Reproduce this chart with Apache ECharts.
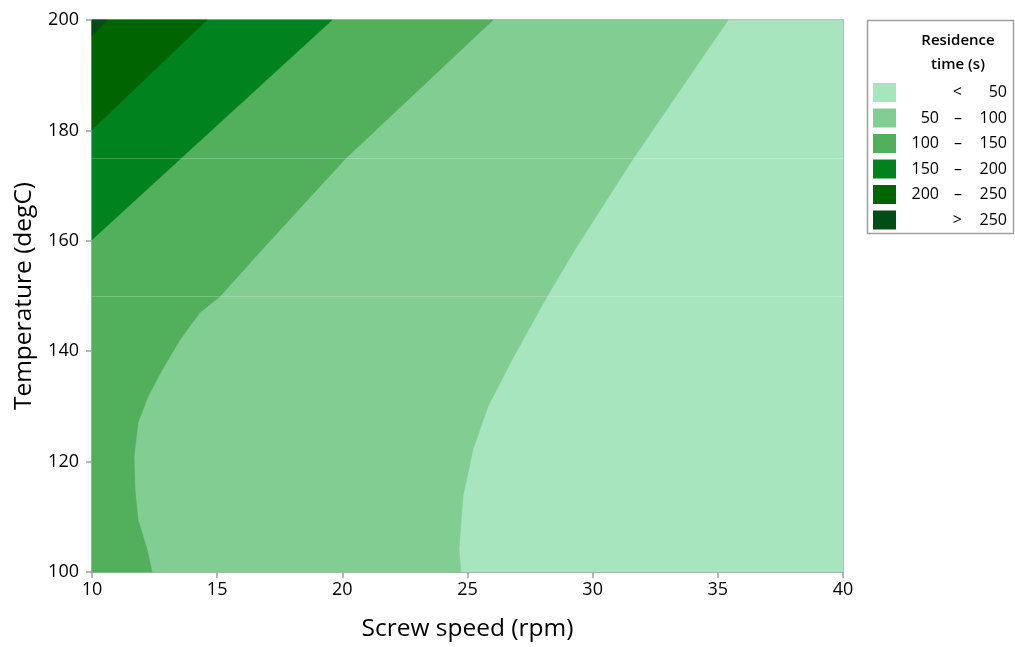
<!DOCTYPE html>
<html>
<head>
<meta charset="utf-8">
<script src="https://cdn.jsdelivr.net/npm/echarts@6/dist/echarts.min.js"></script>
<style>
  html, body { margin: 0; padding: 0; background: #fff; }
  #chart { width: 1015px; height: 647px; }
</style>
</head>
<body>
<div id="chart"></div>
<script>
// Axis ranges and ticks
const speedTicks = [10, 15, 20, 25, 30, 35, 40];
const tempTicks = [100, 120, 140, 160, 180, 200];

// Contour lines of residence time, [screw speed (rpm), temperature (degC)],
// each traced from the top edge of the design space down to its left/bottom edge.
const contour50 = [
  [35.41, 200], [31.61, 174.8], [29.29, 158.4], [28.18, 149.9], [26.82, 138.8],
  [25.82, 130.0], [25.22, 122.2], [24.82, 113.7], [24.66, 104.1], [24.74, 100]
];
const contour100 = [
  [26.02, 200], [20.11, 174.8], [16.79, 158.4], [15.11, 149.9], [14.31, 147.0],
  [13.52, 142.1], [12.80, 136.6], [12.24, 131.8], [11.84, 127.1], [11.68, 120.9],
  [11.72, 114.9], [11.84, 109.5], [12.20, 104.1], [12.40, 100]
];
const contour150 = [[19.59, 200], [13.52, 174.8], [10, 160.2]];
const contour200 = [[14.59, 200], [10, 180.1]];
const contour250 = [[10.60, 200], [10, 197.1]];

// Residence time bands (s)
const bandNames = ['< 50', '50 – 100', '100 – 150', '150 – 200', '200 – 250', '> 250'];
const bandColors = ['#A6E5BD', '#82CD91', '#52AF5B', '#00821F', '#006400', '#004D17'];

// Faint seams of the filled surface
const seamTemps = [150, 175];

const X_MIN = 10, X_MAX = 40, Y_MIN = 100, Y_MAX = 200;

// Region on the high side of a contour: the curve closed through the top-left corner
function regionFrom(curve) {
  const pts = curve.slice();
  const last = pts[pts.length - 1];
  if (last[1] === Y_MIN && last[0] !== X_MIN) pts.push([X_MIN, Y_MIN]);
  pts.push([X_MIN, Y_MAX]);
  return pts;
}
const fullRegion = [[X_MIN, Y_MIN], [X_MAX, Y_MIN], [X_MAX, Y_MAX], [X_MIN, Y_MAX]];

const regions = [
  fullRegion,
  regionFrom(contour50),
  regionFrom(contour100),
  regionFrom(contour150),
  regionFrom(contour200),
  regionFrom(contour250)
];

function polygonSeries(name, color, pts, z) {
  return {
    name: name,
    type: 'custom',
    coordinateSystem: 'cartesian2d',
    data: pts,
    z: z,
    itemStyle: { color: color },
    silent: true,
    renderItem: function (params, api) {
      if (params.dataIndex !== 0) return null;
      const points = pts.map(function (p) { return api.coord(p); });
      return {
        type: 'polygon',
        shape: { points: points },
        style: { fill: color, stroke: color, lineWidth: 0.5 }
      };
    }
  };
}

const series = regions.map(function (pts, i) {
  return polygonSeries(bandNames[i], bandColors[i], pts, 2 + i);
});

series.push({
  name: 'seams',
  type: 'custom',
  coordinateSystem: 'cartesian2d',
  data: seamTemps.map(function (t) { return [X_MIN, t]; }),
  z: 10,
  silent: true,
  renderItem: function (params, api) {
    const t = seamTemps[params.dataIndex];
    const a = api.coord([X_MIN, t]);
    const b = api.coord([X_MAX, t]);
    return {
      type: 'line',
      shape: { x1: a[0], y1: a[1] + 0.5, x2: b[0], y2: b[1] + 0.5 },
      style: { stroke: 'rgba(255,255,255,0.22)', lineWidth: 1 }
    };
  }
});

const FONT = '"Open Sans", "Noto Sans", sans-serif';
const AXIS_GREY = '#A0A0A0';

const chart = echarts.init(document.getElementById('chart'), null, { renderer: 'canvas' });

// Legend label columns: lower bound | separator | upper bound, all right-aligned
const legendRich = {
  a: { width: 38, align: 'right', fontSize: 16, fontFamily: FONT, color: '#000' },
  b: { width: 23, align: 'right', fontSize: 16, fontFamily: FONT, color: '#000' },
  c: { width: 45, align: 'right', fontSize: 16, fontFamily: FONT, color: '#000' }
};

chart.setOption({
  animation: false,
  backgroundColor: '#fff',
  textStyle: { fontFamily: FONT },
  grid: { left: 92, right: 172, top: 20, bottom: 74.5, show: true, borderColor: AXIS_GREY, borderWidth: 1.5 },
  xAxis: {
    type: 'value',
    min: speedTicks[0],
    max: speedTicks[speedTicks.length - 1],
    interval: 5,
    name: 'Screw speed (rpm)',
    nameLocation: 'middle',
    nameGap: 45,
    nameTextStyle: { fontSize: 24.5, color: '#000', fontFamily: FONT },
    axisLine: { lineStyle: { color: AXIS_GREY, width: 1.5 } },
    axisTick: { inside: false, length: 6, lineStyle: { color: AXIS_GREY, width: 1.5 } },
    axisLabel: { fontSize: 18, color: '#000', margin: 9, fontFamily: FONT },
    splitLine: { show: false }
  },
  yAxis: {
    type: 'value',
    min: tempTicks[0],
    max: tempTicks[tempTicks.length - 1],
    interval: 20,
    name: 'Temperature (degC)',
    nameLocation: 'middle',
    nameGap: 55,
    nameTextStyle: { fontSize: 24.5, color: '#000', fontFamily: FONT },
    axisLine: { show: true, lineStyle: { color: AXIS_GREY, width: 1.5 } },
    axisTick: { show: true, inside: false, length: 6, lineStyle: { color: AXIS_GREY, width: 1.5 } },
    axisLabel: { fontSize: 18, color: '#000', margin: 13, fontFamily: FONT },
    splitLine: { show: false }
  },
  legend: {
    data: bandNames.map(function (n) { return { name: n, icon: 'rect' }; }),
    orient: 'vertical',
    left: 868,
    top: 83,
    itemWidth: 23,
    itemHeight: 19,
    itemGap: 6.5,
    selectedMode: false,
    padding: [0, 0, 0, 5],
    formatter: function (name) {
      if (name.indexOf('<') === 0) return '{a|}{b|<}{c|' + name.slice(2) + '}';
      if (name.indexOf('>') === 0) return '{a|}{b|>}{c|' + name.slice(2) + '}';
      const parts = name.split(' – ');
      return '{a|' + parts[0] + '}{b|–}{c|' + parts[1] + '}';
    },
    textStyle: {
      fontFamily: FONT,
      fontSize: 16,
      color: '#000',
      rich: legendRich
    }
  },
  graphic: [
    {
      type: 'rect',
      shape: { x: 867.5, y: 20.5, width: 146, height: 213 },
      style: { fill: 'none', stroke: AXIS_GREY, lineWidth: 1.5 },
      z: 100
    },
    {
      type: 'text',
      x: 958, y: 41,
      style: {
        text: 'Residence',
        font: '600 15px ' + FONT,
        fill: '#000',
        textAlign: 'center',
        textVerticalAlign: 'middle'
      },
      z: 100
    },
    {
      type: 'text',
      x: 958, y: 65,
      style: {
        text: 'time (s)',
        font: '600 15px ' + FONT,
        fill: '#000',
        textAlign: 'center',
        textVerticalAlign: 'middle'
      },
      z: 100
    }
  ],
  series: series
});
</script>
</body>
</html>
